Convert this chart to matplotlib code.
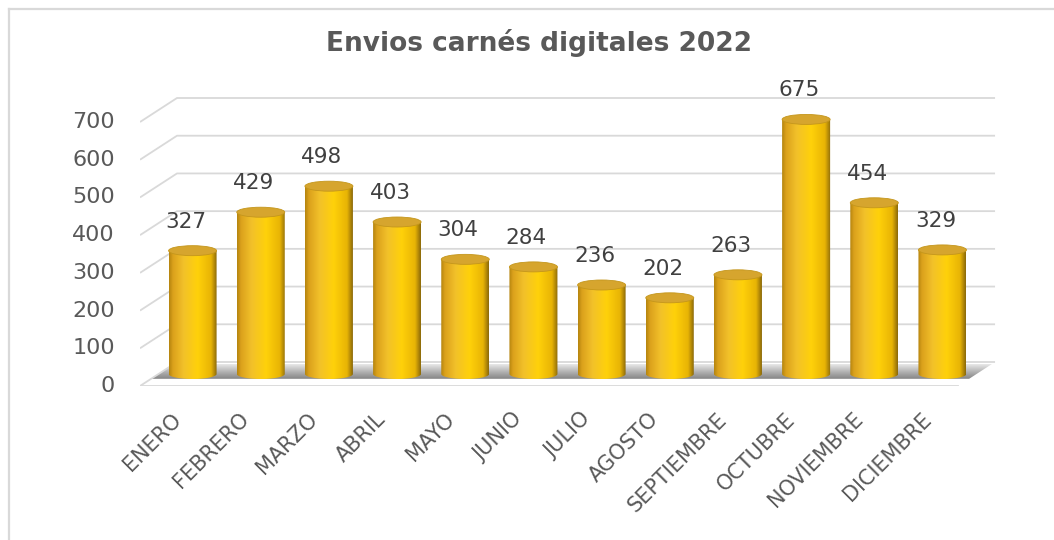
import numpy as np
import matplotlib
matplotlib.use("Agg")
import matplotlib.pyplot as plt
from matplotlib.colors import LinearSegmentedColormap
from matplotlib.patches import Ellipse, Polygon
from matplotlib.lines import Line2D
from matplotlib.transforms import offset_copy

# Datos
meses = ["ENERO", "FEBRERO", "MARZO", "ABRIL", "MAYO", "JUNIO", "JULIO",
         "AGOSTO", "SEPTIEMBRE", "OCTUBRE", "NOVIEMBRE", "DICIEMBRE"]
envios = [327, 429, 498, 403, 304, 284, 236, 202, 263, 675, 454, 329]
yticks = [0, 100, 200, 300, 400, 500, 600, 700]

plt.rcParams["font.family"] = ["DejaVu Sans"]

W, H = 1054, 540
fig = plt.figure(figsize=(W / 100, H / 100), dpi=100)

# plano frontal del grafico 3D (pixeles: x 140 -> 999, y 0 en 386)
px_x = 68.17
px_y = 264 / 700
xmin, xmax = -0.5, 12.1
ymax = 820
ax = fig.add_axes([140 / W, (H - 386) / H, (xmax - xmin) * px_x / W, ymax * px_y / H])
ax.set_xlim(xmin, xmax)
ax.set_ylim(0, ymax)
ax.axis("off")

# profundidad de la caja 3D en unidades de datos
DX = 37 / px_x
DY = 24 / px_y
n = len(meses)
grid_c = "#d9d9d9"

# lineas de la pared del fondo + diagonales del lateral izquierdo
for v in yticks:
    ax.plot([-0.5, -0.5 + DX, n - 0.5 + DX], [v, v + DY, v + DY],
            color=grid_c, lw=1.3, solid_capstyle="butt")
ax.plot([-0.5, n - 0.5], [0, 0], color=grid_c, lw=1.3)

# sombra del piso
f0, f1 = 0.3, 0.92
piso = Polygon([(-0.5 + f0 * DX, f0 * DY), (n - 0.5 + f0 * DX, f0 * DY),
                (n - 0.5 + f1 * DX, f1 * DY), (-0.5 + f1 * DX, f1 * DY)],
               closed=True, transform=ax.transData, facecolor="none", edgecolor="none")
ax.add_patch(piso)
gris = LinearSegmentedColormap.from_list("gris", ["#858585", "#b4b4b4", "#e8e8e8"])
img = ax.imshow(np.linspace(0, 1, 64).reshape(-1, 1), cmap=gris, origin="lower",
                extent=[-0.5, n - 0.5 + DX, f0 * DY, f1 * DY], aspect="auto", zorder=1)
img.set_clip_path(piso)

# cilindros
oro = LinearSegmentedColormap.from_list("oro", [
    (0.0, "#b5850f"), (0.08, "#dba11c"), (0.3, "#f2c12a"),
    (0.6, "#ffd10a"), (0.88, "#e8b405"), (1.0, "#8c6a0a")])
bw = 48 / px_x
eh = 10 / px_y
base = DY / 2
t = np.linspace(np.pi, 2 * np.pi, 40)
for i, v in enumerate(envios):
    cx = i + DX / 2
    top = base + v
    xs = list(cx + bw / 2 * np.cos(t)) + [cx + bw / 2, cx - bw / 2]
    ys = list(base + eh / 2 * np.sin(t)) + [top, top]
    cuerpo = Polygon(np.column_stack([xs, ys]), closed=True, transform=ax.transData,
                     facecolor="none", edgecolor="none")
    ax.add_patch(cuerpo)
    im = ax.imshow(np.linspace(0, 1, 128).reshape(1, -1), cmap=oro,
                   extent=[cx - bw / 2, cx + bw / 2, base - eh / 2, top],
                   aspect="auto", zorder=3)
    im.set_clip_path(cuerpo)
    ax.add_patch(Ellipse((cx, top), bw, eh, facecolor="#d6a52e",
                         edgecolor="#c4961c", lw=0.6, zorder=4))
    ax.text(cx, top, str(v), transform=offset_copy(ax.transData, fig, x=-7, y=29, units="dots"),
            ha="center", va="center", fontsize=15.5, color="#404040", zorder=5)

# etiquetas de ejes
for v in yticks:
    ax.text(-0.5, v, str(v), transform=offset_copy(ax.transData, fig, x=-25, y=0, units="dots"),
            ha="right", va="center", fontsize=16, color="#595959")
for i, m in enumerate(meses):
    ax.text(i, 0, m, transform=offset_copy(ax.transData, fig, x=4, y=-30, units="dots"),
            ha="right", va="center", rotation=45, rotation_mode="anchor",
            fontsize=15, color="#595959")

ax.set_xlim(xmin, xmax)
ax.set_ylim(0, ymax)

fig.text(539 / W, 1 - 43 / H, "Envios carnés digitales 2022", ha="center", va="center",
         fontsize=19, fontweight="bold", color="#595959")

# marco
fig.add_artist(Line2D([9 / W, 1], [1 - 9 / H, 1 - 9 / H], transform=fig.transFigure,
                      color="#d9d9d9", lw=1.6))
fig.add_artist(Line2D([9 / W, 9 / W], [0, 1 - 9 / H], transform=fig.transFigure,
                      color="#d9d9d9", lw=1.6))

fig.savefig("out.png", dpi=100)
